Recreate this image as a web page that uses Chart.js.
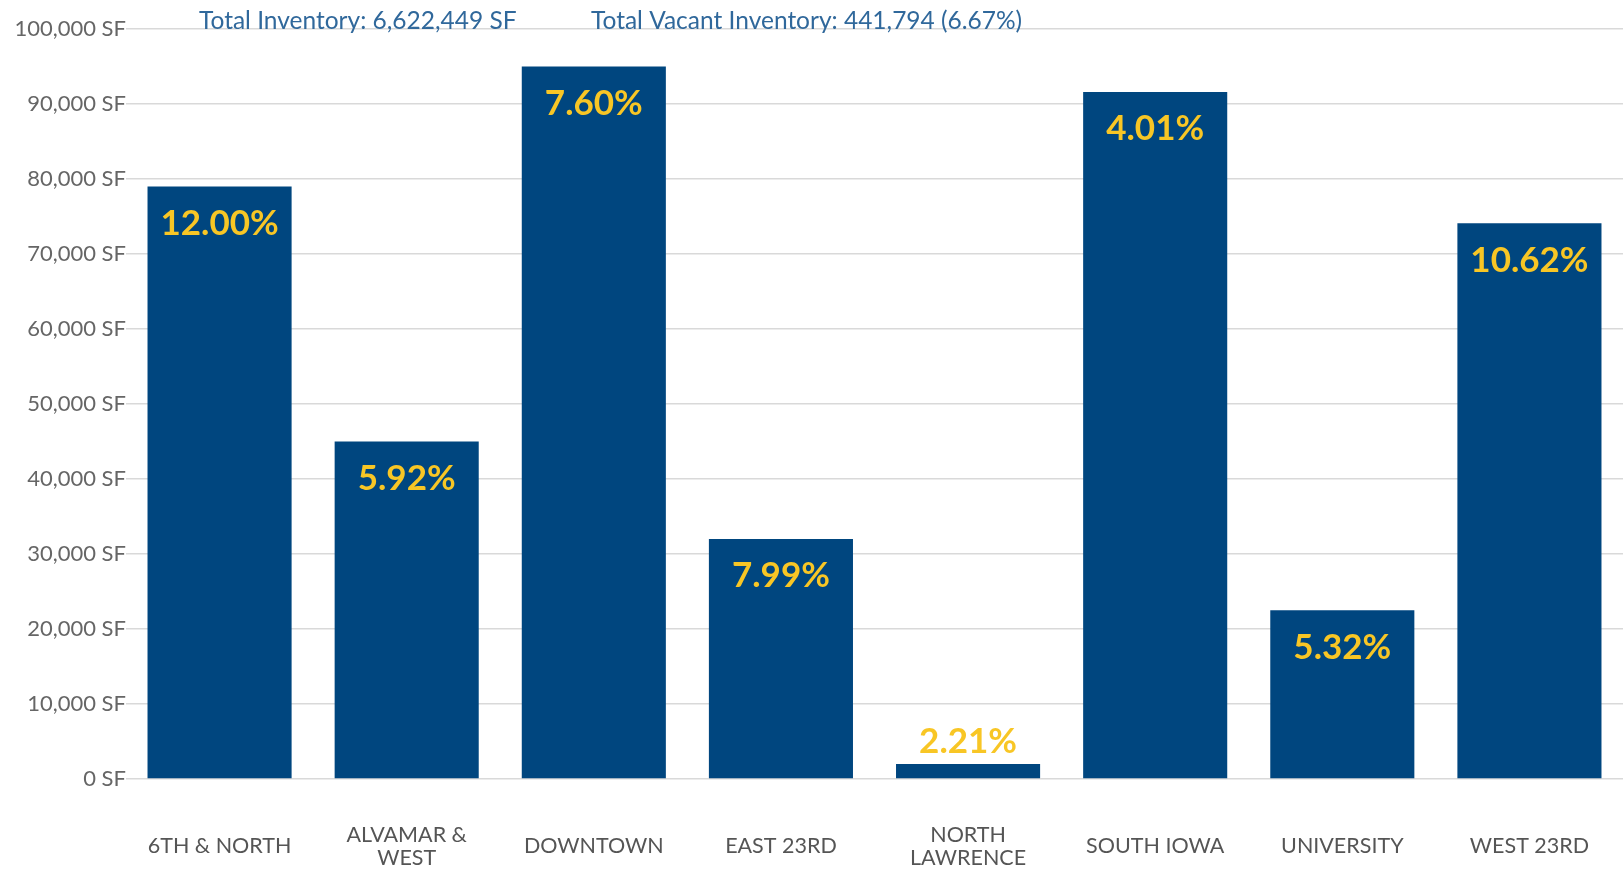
<!DOCTYPE html>
<html>
<head>
<meta charset="utf-8">
<script src="https://cdn.jsdelivr.net/npm/chart.js@4/dist/chart.umd.min.js"></script>
<style>
  html, body { margin: 0; padding: 0; background: #ffffff; }
  #wrap { position: relative; width: 1623px; height: 869px; }
</style>
</head>
<body>
<div id="wrap"><canvas id="vacancyChart" width="1623" height="869"></canvas></div>
<script>
// submarket names (multi-line where the original wraps)
const submarkets = [
    '6TH & NORTH', ['ALVAMAR &', 'WEST'], 'DOWNTOWN', 'EAST 23RD',
    ['NORTH', 'LAWRENCE'], 'SOUTH IOWA', 'UNIVERSITY', 'WEST 23RD'
];
// vacant square feet per submarket
const vacantSF = [79000, 45000, 95000, 32000, 2000, 91600, 22500, 74100];
// vacancy rate labels drawn on each bar
const vacancyRates = ['12.00%', '5.92%', '7.60%', '7.99%', '2.21%', '4.01%', '5.32%', '10.62%'];
// header notes
const headerNotes = ['Total Inventory: 6,622,449 SF', 'Total Vacant Inventory: 441,794 (6.67%)'];

const barColor = '#00467f';
const rateColor = '#f8c625';
const gridColor = '#d9d9d9';

const rateLabels = {
    id: 'rateLabels',
    afterDatasetsDraw(chart) {
        const { ctx } = chart;
        const meta = chart.getDatasetMeta(0);
        ctx.save();
        ctx.font = 'bold 35px Lato';
        ctx.fillStyle = rateColor;
        ctx.textAlign = 'center';
        ctx.textBaseline = 'middle';
        meta.data.forEach((bar, i) => {
            const h = bar.base - bar.y;
            const y = h > 60 ? bar.y + 37 : bar.y - 22;
            ctx.fillText(vacancyRates[i], bar.x, y);
        });
        ctx.restore();
    }
};

const headerText = {
    id: 'headerText',
    afterDraw(chart) {
        const { ctx, chartArea } = chart;
        ctx.save();
        ctx.font = '24.5px Lato';
        ctx.fillStyle = '#30689b';
        ctx.textAlign = 'left';
        ctx.textBaseline = 'alphabetic';
        ctx.fillText(headerNotes[0], 199, chartArea.top);
        ctx.fillText(headerNotes[1], 591, chartArea.top);
        ctx.restore();
    }
};

new Chart(document.getElementById('vacancyChart'), {
    type: 'bar',
    data: {
        labels: submarkets,
        datasets: [{
            label: 'Vacant SF',
            data: vacantSF,
            backgroundColor: barColor,
            barPercentage: 0.77,
            categoryPercentage: 1.0
        }]
    },
    options: {
        responsive: false,
        animation: false,
        layout: { padding: { top: 29, right: 0, left: 0, bottom: 0 } },
        plugins: {
            legend: { display: false },
            tooltip: { enabled: false }
        },
        scales: {
            x: {
                // invisible tick marks push the labels down without widening the side padding
                grid: { display: true, drawOnChartArea: false, drawTicks: true, tickLength: 50, color: 'rgba(0,0,0,0)' },
                border: { display: false },
                ticks: {
                    color: '#555555',
                    font: { family: 'Lato', size: 21.5, lineHeight: 1.05 },
                    padding: 6,
                    crossAlign: 'center',
                    maxRotation: 0,
                    autoSkip: false
                },
                afterFit(scale) { scale.height = 90; }
            },
            y: {
                min: 0,
                max: 100000,
                grid: { color: gridColor, lineWidth: 1.6, drawTicks: false },
                border: { display: false },
                ticks: {
                    stepSize: 10000,
                    color: '#666666',
                    font: { family: 'Lato', size: 22 },
                    padding: 0,
                    callback: v => v.toLocaleString('en-US') + ' SF'
                },
                afterFit(scale) { scale.width = 126; }
            }
        }
    },
    plugins: [rateLabels, headerText]
});
</script>
</body>
</html>
